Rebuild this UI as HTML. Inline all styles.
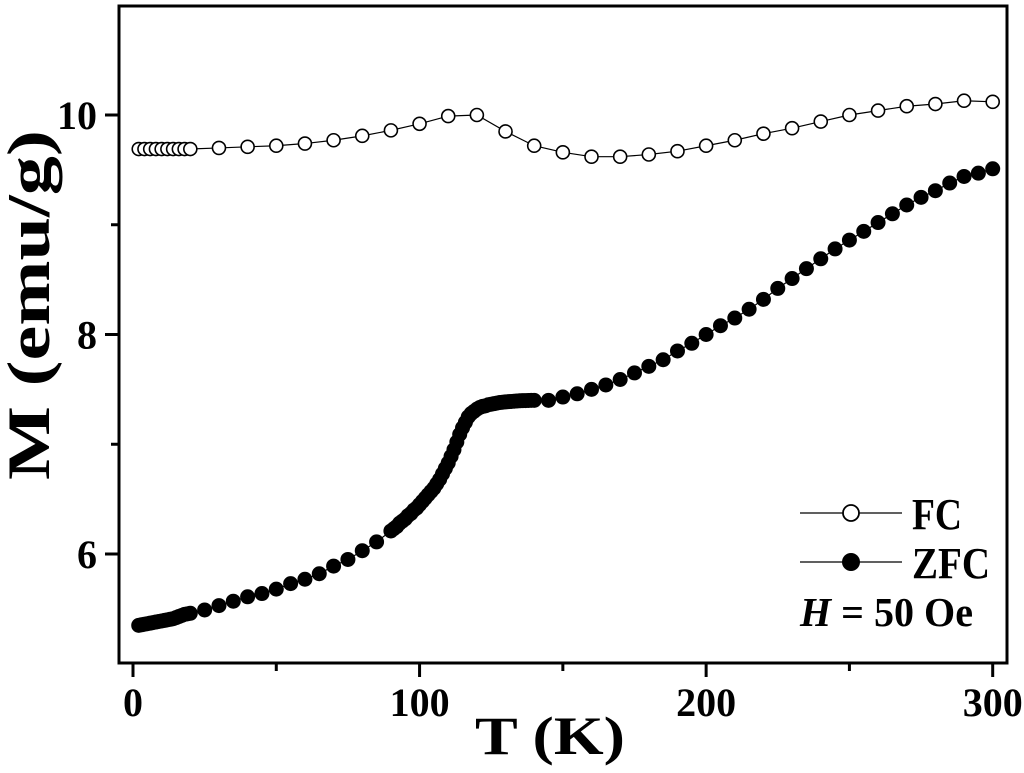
<!DOCTYPE html>
<html><head><meta charset="utf-8"><style>
html,body{margin:0;padding:0;background:#fff;}
svg{display:block;}
text{font-family:"Liberation Serif",serif;font-weight:bold;fill:#000;}
</style></head><body>
<svg id="chart" width="1024" height="773" viewBox="0 0 1024 773">
<g id="marks"></g>
<rect x="119" y="6" width="888" height="657" fill="none" stroke="#000" stroke-width="3"/>
<g id="axes"></g>
<text x="49" y="305" font-size="60" text-anchor="middle" textLength="350" lengthAdjust="spacingAndGlyphs" transform="rotate(-90 49 305)">M (emu/g)</text>
<text x="550" y="754" font-size="54" text-anchor="middle" textLength="150" lengthAdjust="spacingAndGlyphs">T (K)</text>
<g>
<line x1="800" y1="513" x2="902" y2="513" stroke="#000" stroke-width="1.2"/>
<circle cx="851" cy="513" r="8" fill="#fff" stroke="#000" stroke-width="1.8"/>
<text x="912" y="529" font-size="44" textLength="50" lengthAdjust="spacingAndGlyphs">FC</text>
<line x1="800" y1="562" x2="902" y2="562" stroke="#000" stroke-width="1.2"/>
<circle cx="851" cy="562" r="9" fill="#000"/>
<text x="912" y="578" font-size="44" textLength="78" lengthAdjust="spacingAndGlyphs">ZFC</text>
<text x="800" y="626" font-size="41" textLength="173" lengthAdjust="spacingAndGlyphs"><tspan font-style="italic">H</tspan> = 50 Oe</text>
</g>
</svg>
<script>
const fcT=[2,4,6,8,10,12,14,16,18,20,30,40,50,60,70,80,90,100,110,120,130,140,150,160,170,180,190,200,210,220,230,240,250,260,270,280,290,300];
const fcM=[9.69,9.69,9.69,9.69,9.69,9.69,9.69,9.69,9.69,9.69,9.70,9.71,9.72,9.74,9.77,9.81,9.86,9.92,9.99,10.00,9.85,9.72,9.66,9.62,9.62,9.64,9.67,9.72,9.77,9.83,9.88,9.94,10.00,10.04,10.08,10.10,10.13,10.12];
const zfcT=[2,3,4,5,6,7,8,9,10,11,12,13,14,15,16,17,18,19,20,25,30,35,40,45,50,55,60,65,70,75,80,85,
90,91,92,93,94,95,96,97,98,99,100,101,102,103,104,105,106,107,108,109,110,111,112,113,114,115,116,117,118,119,120,121,122,123,124,125,126,127,128,129,130,131,132,133,134,135,136,137,138,139,140,
145,150,155,160,165,170,175,180,185,190,195,200,205,210,215,220,225,230,235,240,245,250,255,260,265,270,275,280,285,290,295,300];
const zfcM=[5.35,5.355,5.36,5.365,5.37,5.375,5.38,5.385,5.39,5.395,5.40,5.405,5.41,5.42,5.43,5.44,5.45,5.455,5.46,5.49,5.53,5.57,5.61,5.64,5.68,5.73,5.77,5.82,5.89,5.95,6.03,6.11,
6.21,6.23,6.25,6.28,6.30,6.32,6.35,6.37,6.40,6.42,6.45,6.48,6.51,6.54,6.57,6.60,6.64,6.68,6.73,6.78,6.83,6.89,6.95,7.02,7.09,7.15,7.20,7.25,7.28,7.30,7.32,7.335,7.345,7.35,7.36,7.365,7.37,7.375,7.38,7.383,7.386,7.388,7.39,7.392,7.394,7.396,7.397,7.398,7.399,7.40,7.40,
7.40,7.43,7.46,7.50,7.54,7.59,7.65,7.71,7.77,7.85,7.92,8.00,8.08,8.15,8.23,8.32,8.42,8.51,8.60,8.69,8.78,8.86,8.94,9.02,9.10,9.18,9.25,9.31,9.38,9.44,9.47,9.51];
const xMajor=[0,100,200,300];
const xMinor=[50,150,250];
const yMajor=[6,8,10];
const yMinor=[7,9];
const xLabels=["0","100","200","300"];
const yLabels=["6","8","10"];

const NS="http://www.w3.org/2000/svg";
const X=t=>133+(t-0)*(992.7-133)/300;
const Y=m=>554-(m-6)*(554-115)/4;
function mk(tag,attrs,parent){const e=document.createElementNS(NS,tag);for(const k in attrs)e.setAttribute(k,attrs[k]);parent.appendChild(e);return e;}
const marks=document.getElementById('marks'), axes=document.getElementById('axes');

let p=mk('polyline',{points:zfcT.map((t,i)=>X(t)+','+Y(zfcM[i])).join(' '),fill:'none',stroke:'#000','stroke-width':1.2},marks);


zfcT.forEach((t,i)=>{const c=mk('circle',{cx:X(t),cy:Y(zfcM[i]),r:7.5,fill:'#000'},marks);

});
p=mk('polyline',{points:fcT.map((t,i)=>X(t)+','+Y(fcM[i])).join(' '),fill:'none',stroke:'#000','stroke-width':1.2},marks);


fcT.forEach((t,i)=>{const c=mk('circle',{cx:X(t),cy:Y(fcM[i]),r:6.5,fill:'#fff',stroke:'#000','stroke-width':1.6},marks);

});

xMajor.forEach((t,i)=>{const l=mk('line',{x1:X(t),x2:X(t),y1:663,y2:677,stroke:'#000','stroke-width':3},axes);


const tx=mk('text',{x:X(t),y:716,'font-size':40,'text-anchor':'middle'},axes);tx.textContent=xLabels[i];

});
xMinor.forEach(t=>{const l=mk('line',{x1:X(t),x2:X(t),y1:663,y2:671,stroke:'#000','stroke-width':3},axes);

});
yMajor.forEach((m,i)=>{const l=mk('line',{x1:105,x2:119,y1:Y(m),y2:Y(m),stroke:'#000','stroke-width':3},axes);


const tx=mk('text',{x:97,y:Y(m)+14,'font-size':40,'text-anchor':'end'},axes);tx.textContent=yLabels[i];

});
yMinor.forEach(m=>{const l=mk('line',{x1:111,x2:119,y1:Y(m),y2:Y(m),stroke:'#000','stroke-width':3},axes);

});
</script>
</body></html>
